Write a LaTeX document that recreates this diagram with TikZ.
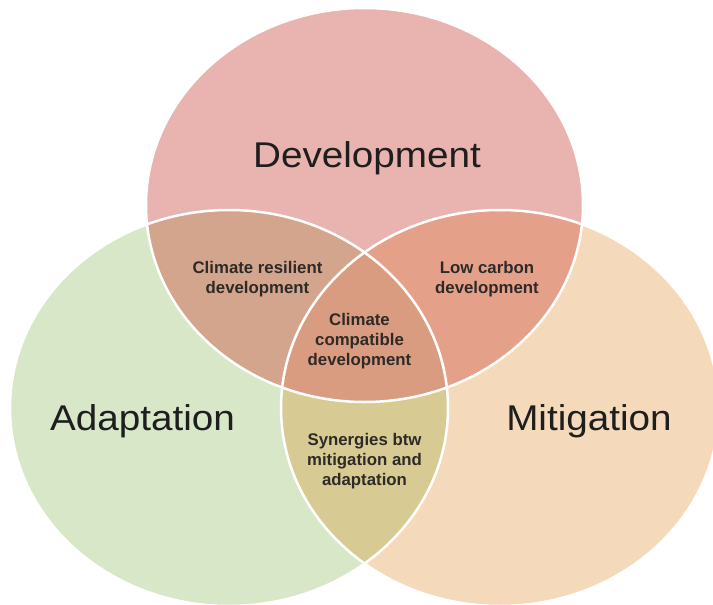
\documentclass[tikz,border=0pt]{standalone}
\usepackage{fontspec}
\setmainfont{Liberation Sans}
\newfontfamily\bigfont[FakeStretch=1.08]{Liberation Sans}
\definecolor{cdev}{HTML}{E9B3AF}
\definecolor{cada}{HTML}{D9E7C9}
\definecolor{cmit}{HTML}{F4DABA}
\definecolor{cda}{HTML}{D4A58D}
\definecolor{cdm}{HTML}{E5A08A}
\definecolor{cam}{HTML}{D7CB93}
\definecolor{cctr}{HTML}{DA9C80}
\definecolor{ink}{HTML}{1E1E1E}
\definecolor{inks}{HTML}{2E2A28}
\begin{document}
\begin{tikzpicture}[x=1pt,y=-1pt,
  big/.style={font=\bigfont\fontsize{35.8}{40}\selectfont, text=ink, inner sep=0pt, anchor=base},
  small/.style={font=\bfseries\fontsize{16.8}{20}\selectfont, text=inks, align=center, inner sep=0pt, anchor=base},
  ring/.style={draw=white, line width=2.5pt}]
\def\Dev{(364.5,205) ellipse [x radius=218.5pt, y radius=197pt]}
\def\Ada{(229,408) ellipse [x radius=219pt, y radius=198pt]}
\def\Mit{(500,408) ellipse [x radius=219pt, y radius=198pt]}
\useasboundingbox (0,0) rectangle (713,605);
\fill[white] (0,0) rectangle (713,605);
\clip (0,0) rectangle (713,605);
% single sets
\fill[cdev] \Dev;
\fill[cada] \Ada;
\fill[cmit] \Mit;
% pairwise
\begin{scope}
  \clip \Dev;
  \fill[cda] \Ada;
  \fill[cdm] \Mit;
\end{scope}
\begin{scope}
  \clip \Ada;
  \fill[cam] \Mit;
\end{scope}
% triple
\begin{scope}
  \clip \Dev;
  \clip \Ada;
  \fill[cctr] \Mit;
\end{scope}
% outlines
\draw[ring] \Dev;
\draw[ring] \Ada;
\draw[ring] \Mit;
% labels (multi-line nodes: base = last line's baseline)
\node[big] (dev) at (367,167.3) {Development};
\node[big] (ada) at (142.5,430) {Adaptation};
\node[big] (mit) at (589,430) {Mitigation};
\node[small] (crd) at (257.5,293) {Climate resilient\\development};
\node[small] (lcd) at (487,293) {Low carbon\\development};
\node[small] (ccd) at (359.5,365) {Climate\\compatible\\development};
\node[small] (syn) at (364.5,485) {Synergies btw\\mitigation and\\adaptation};
\end{tikzpicture}
\end{document}
